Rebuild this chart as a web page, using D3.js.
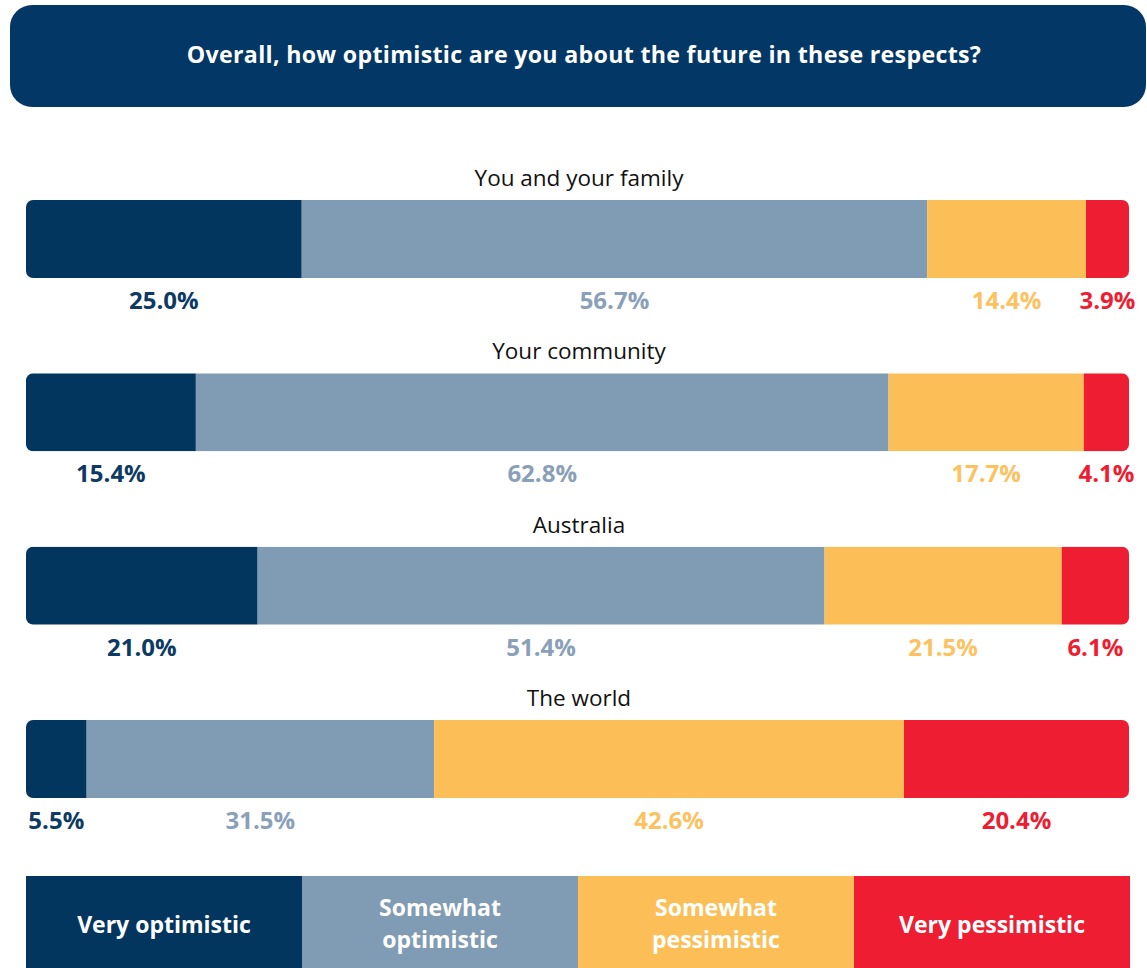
<!DOCTYPE html>
<html>
<head>
<meta charset="utf-8">
<script src="https://cdn.jsdelivr.net/npm/d3@7"></script>
<style>
  html, body { margin: 0; padding: 0; background: #ffffff; }
  svg { display: block; }
  text { font-family: "Open Sans", "Noto Sans", sans-serif; }
</style>
</head>
<body>
<svg id="chart" width="1147" height="968"></svg>
<script>
// Survey question and answer scale
const title = "Overall, how optimistic are you about the future in these respects?";
const categories = ["You and your family", "Your community", "Australia", "The world"];
const responses = ["Very optimistic", "Somewhat optimistic", "Somewhat pessimistic", "Very pessimistic"];
const legendLines = [["Very optimistic"], ["Somewhat", "optimistic"], ["Somewhat", "pessimistic"], ["Very pessimistic"]];

// Share of respondents (%) per response, one array per response
const veryOptimistic      = [25.0, 15.4, 21.0, 5.5];
const somewhatOptimistic  = [56.7, 62.8, 51.4, 31.5];
const somewhatPessimistic = [14.4, 17.7, 21.5, 42.6];
const veryPessimistic     = [3.9, 4.1, 6.1, 20.4];

const colors = ["#03365f", "#809bb4", "#fcbf57", "#ee1d31"];
const labelColors = ["#0d3a63", "#8a9fb8", "#fcc25f", "#ee1d31"];

const series = [veryOptimistic, somewhatOptimistic, somewhatPessimistic, veryPessimistic];

const svg = d3.select("#chart");

// Header banner
svg.append("rect")
  .attr("x", 10).attr("y", 5)
  .attr("width", 1136).attr("height", 102)
  .attr("rx", 22).attr("ry", 22)
  .attr("fill", "#023766");
svg.append("text")
  .attr("x", 584).attr("y", 63)
  .attr("text-anchor", "middle")
  .attr("fill", "#ffffff")
  .attr("font-size", 23.2)
  .attr("font-weight", 700)
  .attr("letter-spacing", 0.3)
  .text(title);

// Scales
const x = d3.scaleLinear().domain([0, 100]).range([26, 1129]);
const y = d3.scaleBand().domain(categories).range([200, 798]).paddingInner(0.55).paddingOuter(0);
const barH = y.bandwidth();

const rows = categories.map((c, i) => {
  let acc = 0;
  const segs = series.map((s, k) => {
    const v = s[i];
    const seg = { key: responses[k], k, value: v, x0: acc, x1: acc + v };
    acc += v;
    return seg;
  });
  return { category: c, segs };
});

const defs = svg.append("defs");

const row = svg.selectAll("g.row")
  .data(rows)
  .join("g")
  .attr("class", "row")
  .attr("transform", d => `translate(0,${y(d.category)})`);

// Rounded outline used to clip the stacked segments
row.each(function (d, i) {
  defs.append("clipPath").attr("id", "clip" + i)
    .append("rect")
    .attr("x", x(0)).attr("y", 0)
    .attr("width", x(100) - x(0)).attr("height", barH)
    .attr("rx", 7).attr("ry", 7);
});

row.append("text")
  .attr("x", 579)
  .attr("y", -14)
  .attr("text-anchor", "middle")
  .attr("fill", "#111111")
  .attr("font-size", 22.5)
  .text(d => d.category);

row.append("g")
  .attr("clip-path", (d, i) => `url(#clip${i})`)
  .selectAll("rect")
  .data(d => d.segs)
  .join("rect")
  .attr("x", s => x(s.x0))
  .attr("y", 0)
  .attr("width", s => x(s.x1) - x(s.x0))
  .attr("height", barH)
  .attr("fill", s => colors[s.k]);

row.append("g")
  .selectAll("text")
  .data(d => d.segs)
  .join("text")
  .attr("x", s => (x(s.x0) + x(s.x1)) / 2)
  .attr("y", barH + 31)
  .attr("text-anchor", "middle")
  .attr("fill", s => labelColors[s.k])
  .attr("font-size", 24)
  .attr("font-weight", 700)
  .text(s => s.value.toFixed(1) + "%");

// Legend strip
const lx = d3.scaleBand().domain(responses).range([26, 1130]);
const legend = svg.append("g").attr("transform", "translate(0,876)");
const item = legend.selectAll("g")
  .data(responses)
  .join("g");
item.append("rect")
  .attr("x", d => lx(d))
  .attr("y", 0)
  .attr("width", lx.bandwidth())
  .attr("height", 92)
  .attr("fill", (d, i) => colors[i]);
item.append("text")
  .attr("text-anchor", "middle")
  .attr("fill", "#ffffff")
  .attr("font-size", 23)
  .attr("font-weight", 700)
  .each(function (d, i) {
    const lines = legendLines[i];
    const t = d3.select(this);
    const cx = lx(d) + lx.bandwidth() / 2;
    const startY = lines.length === 1 ? 57 : 40;
    lines.forEach((ln, j) => {
      t.append("tspan").attr("x", cx).attr("y", startY + j * 32).text(ln);
    });
  });
</script>
</body>
</html>
